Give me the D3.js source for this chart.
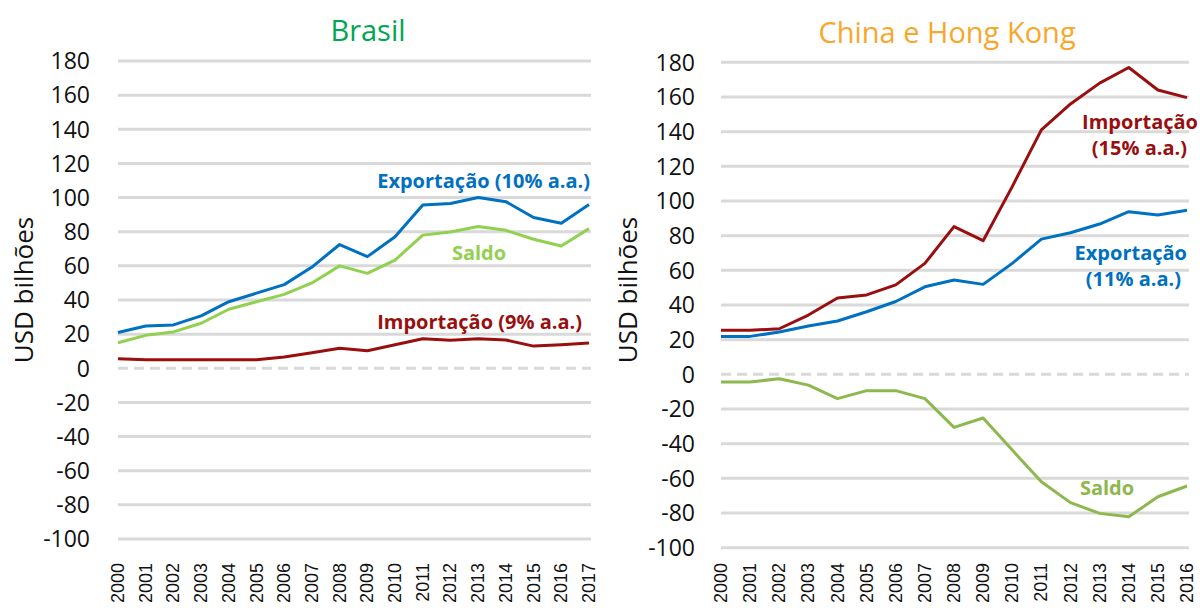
<!DOCTYPE html>
<html>
<head>
<meta charset="utf-8">
<script src="https://cdnjs.cloudflare.com/ajax/libs/d3/7.8.5/d3.min.js"></script>
<style>
  body { margin: 0; background: #fff; }
  svg { display: block; font-family: "Open Sans", sans-serif; }
</style>
</head>
<body>
<div id="chart"></div>
<script>
// Data (USD bilhões)
var yTicks = [180, 160, 140, 120, 100, 80, 60, 40, 20, 0, -20, -40, -60, -80, -100];

var brYears = d3.range(2000, 2018);
var brExport = [21, 24.8, 25.4, 30.7, 39, 44, 49, 59.3, 72.5, 65.4, 77, 95.7, 96.5, 100, 97.6, 88.3, 85, 96];
var brImport = [5.6, 5, 5, 5, 5, 5, 6.6, 9.1, 11.7, 10.3, 13.8, 17.3, 16.4, 17.3, 16.6, 13, 13.8, 14.8];
var brSaldo  = [15, 19.3, 21.3, 26.4, 34.6, 39, 43.3, 50, 60, 55.6, 63.4, 78, 79.8, 83, 80.8, 75.6, 71.6, 81.8];

var cnYears = d3.range(2000, 2017);
var cnImport = [25.4, 25.4, 26.3, 34.2, 44, 45.8, 51.6, 64, 85.2, 77.1, 108.3, 141, 156, 168, 177, 164, 159.6];
var cnExport = [21.9, 21.9, 24.4, 27.9, 30.8, 36.1, 42, 50.5, 54.4, 51.9, 64, 78, 81.7, 86.7, 93.8, 91.9, 94.6];
var cnSaldo  = [-4.4, -4.4, -2.5, -6.2, -14, -9.4, -9.4, -14, -30.6, -25.2, -43.7, -62, -74, -80.2, -82.2, -70.6, -64.4];

var BLUE = "#0070C0", RED = "#990F0F", GREEN = "#92D050", GREEN2 = "#8DB84E";

var svg = d3.select("#chart")
  .append("svg")
  .attr("width", 1200)
  .attr("height", 608);

// Draws one panel
function DrawPanel(cfg) {
  var x = d3.scalePoint()
    .domain(cfg.years)
    .range([cfg.x0, cfg.x1]);
  var y = d3.scaleLinear()
    .domain([-100, 180])
    .range([cfg.yBottom, cfg.yTop]);

  var g = svg.append("g");

  // grid lines
  g.selectAll(".grid")
    .data(yTicks.filter(function(d) { return d !== 0; }))
    .enter().append("line")
    .attr("x1", cfg.x0)
    .attr("x2", cfg.x1 + 2)
    .attr("y1", function(d) { return y(d); })
    .attr("y2", function(d) { return y(d); })
    .attr("stroke", "#D9D9D9")
    .attr("stroke-width", 3);

  // dashed zero line
  g.append("line")
    .attr("x1", cfg.x0)
    .attr("x2", cfg.x1 + 2)
    .attr("y1", y(0))
    .attr("y2", y(0))
    .attr("stroke", "#D9D9D9")
    .attr("stroke-width", 3)
    .attr("stroke-dasharray", "10,6");

  // y tick labels
  g.selectAll(".ylab")
    .data(yTicks)
    .enter().append("text")
    .attr("x", cfg.yLabX)
    .attr("y", function(d) { return y(d); })
    .attr("dy", "0.36em")
    .attr("text-anchor", "end")
    .style("font-size", "23px")
    .style("fill", "#111")
    .text(function(d) { return d; });

  // x tick labels (rotated)
  g.selectAll(".xlab")
    .data(cfg.years)
    .enter().append("text")
    .attr("transform", function(d) {
      return "translate(" + (x(d) + 6) + "," + 563 + ") rotate(-90)";
    })
    .attr("text-anchor", "end")
    .style("font-family", "'Liberation Sans', Arial, sans-serif")
    .style("font-size", "18px")
    .style("fill", "#111")
    .text(function(d) { return d; });

  // axis title
  g.append("text")
    .attr("transform", "translate(" + cfg.axisTitleX + ",290) rotate(-90)")
    .attr("text-anchor", "middle")
    .attr("dy", "0.35em")
    .style("font-size", "26px")
    .style("fill", "#111")
    .text("USD bilhões");

  // chart title
  g.append("text")
    .attr("x", cfg.titleX)
    .attr("y", cfg.titleY)
    .attr("text-anchor", "middle")
    .style("font-size", cfg.titleSize)
    .style("fill", cfg.titleColor)
    .text(cfg.title);

  var line = d3.line()
    .x(function(d, i) { return x(cfg.years[i]); })
    .y(function(d) { return y(d); });

  cfg.series.forEach(function(s) {
    g.append("path")
      .datum(s.values)
      .attr("d", line)
      .attr("fill", "none")
      .attr("stroke", s.color)
      .attr("stroke-width", 3)
      .attr("stroke-linejoin", "round");
  });

  cfg.labels.forEach(function(l) {
    g.append("text")
      .attr("x", l.x)
      .attr("y", l.y)
      .attr("dy", "0.35em")
      .attr("text-anchor", l.anchor)
      .style("font-size", "20px")
      .style("font-weight", "bold")
      .style("fill", l.color)
      .text(l.text);
  });
}

DrawPanel({
  years: brYears, x0: 118, x1: 589, yTop: 61, yBottom: 539,
  yLabX: 90, axisTitleX: 24, titleX: 368, titleY: 41,
  title: "Brasil", titleColor: "#00A651", titleSize: "29px",
  series: [
    {values: brImport, color: RED},
    {values: brSaldo, color: GREEN},
    {values: brExport, color: BLUE}
  ],
  labels: [
    {text: "Exportação (10% a.a.)", x: 590, y: 181, anchor: "end", color: BLUE},
    {text: "Saldo", x: 479, y: 253, anchor: "middle", color: GREEN},
    {text: "Importação (9% a.a.)", x: 582, y: 322, anchor: "end", color: RED}
  ]
});

DrawPanel({
  years: cnYears, x0: 721, x1: 1187, yTop: 62.3, yBottom: 547.7,
  yLabX: 695, axisTitleX: 628, titleX: 947, titleY: 43,
  title: "China e Hong Kong", titleColor: "#F9A72B", titleSize: "29px",
  series: [
    {values: cnSaldo, color: GREEN2},
    {values: cnExport, color: BLUE},
    {values: cnImport, color: RED}
  ],
  labels: [
    {text: "Importação", x: 1198, y: 122, anchor: "end", color: RED},
    {text: "(15% a.a.)", x: 1187, y: 148, anchor: "end", color: RED},
    {text: "Exportação", x: 1187, y: 253, anchor: "end", color: BLUE},
    {text: "(11% a.a.)", x: 1181, y: 279, anchor: "end", color: BLUE},
    {text: "Saldo", x: 1107, y: 488, anchor: "middle", color: GREEN2}
  ]
});
</script>
</body>
</html>
